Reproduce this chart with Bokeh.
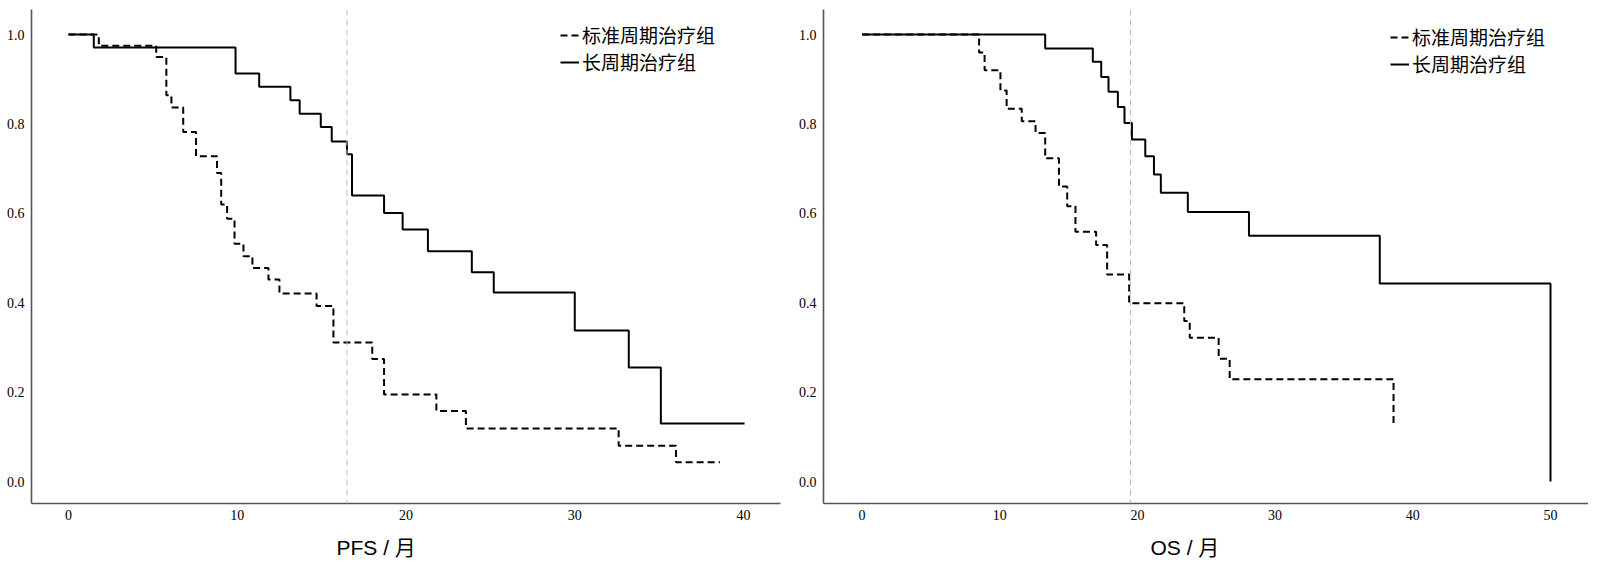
from bokeh.plotting import figure
from bokeh.layouts import row
from bokeh.models import Span, Legend, LegendItem, FixedTicker, NumeralTickFormatter, Title, Range1d
from bokeh.embed import file_html
from bokeh.resources import INLINE

# ---- data ----
labels = ["标准周期治疗组", "长周期治疗组"]

pfs_std_t = [0, 1.8, 5.2, 5.8, 6.1, 6.8, 7.56, 8.8, 9.05, 9.4, 9.84, 10.37, 10.9, 11.85, 12.5,
             14.7, 15.7, 18.0, 18.7, 21.8, 23.55, 32.6, 36.0, 38.6]
pfs_std_s = [1.0, 0.975, 0.950, 0.864, 0.837, 0.782, 0.728, 0.69, 0.62, 0.588, 0.532, 0.504,
             0.478, 0.452, 0.421, 0.393, 0.311, 0.274, 0.195, 0.158, 0.119, 0.080, 0.043, 0.043]

pfs_long_t = [0, 1.5, 9.9, 11.3, 13.15, 13.7, 14.95, 15.6, 16.5, 16.8, 18.7, 19.8, 21.3, 23.9,
              25.2, 30.0, 33.2, 35.1, 40.06]
pfs_long_s = [1.0, 0.971, 0.913, 0.883, 0.853, 0.823, 0.793, 0.761, 0.732, 0.640, 0.601, 0.564,
              0.515, 0.468, 0.423, 0.338, 0.255, 0.130, 0.130]

os_std_t = [0, 8.5, 8.9, 10.05, 10.5, 11.6, 12.6, 13.3, 14.3, 14.9, 15.5, 17.0, 17.8, 19.4,
            23.4, 23.8, 25.9, 26.7, 38.6]
os_std_s = [1.0, 0.96, 0.92, 0.875, 0.834, 0.806, 0.78, 0.723, 0.66, 0.616, 0.559, 0.529, 0.463,
            0.399, 0.359, 0.322, 0.275, 0.229, 0.125]

os_long_t = [0, 13.3, 16.76, 17.37, 17.9, 18.58, 19.06, 19.6, 20.57, 21.2, 21.7, 23.66, 28.1,
             37.6, 50.0]
os_long_s = [1.0, 0.969, 0.939, 0.905, 0.872, 0.838, 0.802, 0.765, 0.728, 0.687, 0.646, 0.603,
             0.550, 0.443, 0.0]

pfs_median_line = 16.5
os_median_line = 19.5

y_ticks = [0.0, 0.2, 0.4, 0.6, 0.8, 1.0]
pfs_x_ticks = [0, 10, 20, 30, 40]
os_x_ticks = [0, 10, 20, 30, 40, 50]

SERIF = "Liberation Serif"
CJK = "Noto Sans CJK SC"


def make_fig(std_t, std_s, long_t, long_s, xr, xticks, vline, frame_w, mb_left, mb_right,
             xlabel, label_offset, legend_x, legend_y):
    p = figure(frame_width=frame_w, frame_height=494, output_backend="svg",
               toolbar_location=None, x_range=Range1d(*xr), y_range=Range1d(-0.049, 1.056),
               min_border_left=mb_left, min_border_right=mb_right, min_border_top=9,
               min_border_bottom=0)
    p.outline_line_color = None
    p.grid.visible = False
    p.background_fill_color = "white"
    p.border_fill_color = "white"

    p.add_layout(Span(location=vline, dimension="height", line_color="#bcbcbc",
                      line_width=1, line_dash="6 4"))

    r_std = p.step(std_t, std_s, mode="after", line_color="black", line_width=2,
                   line_dash="7 4")
    r_long = p.step(long_t, long_s, mode="after", line_color="black", line_width=2)

    for ax in (p.xaxis[0], p.yaxis[0]):
        ax.axis_line_color = "#555555"
        ax.axis_line_width = 1.6
        ax.major_tick_line_color = None
        ax.minor_tick_line_color = None
        ax.major_tick_out = 0
        ax.major_tick_in = 0
        ax.major_label_text_font = SERIF
        ax.major_label_text_font_size = "14px"
        ax.major_label_text_color = "black"
    p.xaxis[0].ticker = FixedTicker(ticks=xticks)
    p.yaxis[0].ticker = FixedTicker(ticks=y_ticks)
    p.yaxis[0].formatter = NumeralTickFormatter(format="0.0")
    p.xaxis[0].major_label_standoff = 6
    p.yaxis[0].major_label_standoff = 7

    t = Title(text=xlabel, align="left", offset=label_offset,
              text_font="Liberation Sans, " + CJK, text_font_size="21px",
              text_font_style="normal", text_color="black", standoff=23)
    p.add_layout(t, "below")

    legend = Legend(items=[LegendItem(label=labels[0], renderers=[r_std]),
                           LegendItem(label=labels[1], renderers=[r_long])],
                    location=(legend_x, legend_y), border_line_color=None,
                    background_fill_alpha=0, padding=0, spacing=-5, margin=0,
                    glyph_width=19, glyph_height=20, label_standoff=3,
                    label_text_font=CJK, label_text_font_size="19px",
                    label_text_color="black", label_height=20)
    p.add_layout(legend)
    return p


p1 = make_fig(pfs_std_t, pfs_std_s, pfs_long_t, pfs_long_s, (-2.19, 42.19), pfs_x_ticks,
              pfs_median_line, 749, 31, 10, "PFS / 月", 305, 529, 428)
p2 = make_fig(os_std_t, os_std_s, os_long_t, os_long_s, (-2.80, 52.76), os_x_ticks,
              os_median_line, 765, 33, 0, "OS / 月", 327, 567, 426)

layout = row(p1, p2, spacing=0)
open("out.html", "w").write(file_html(layout, INLINE))
